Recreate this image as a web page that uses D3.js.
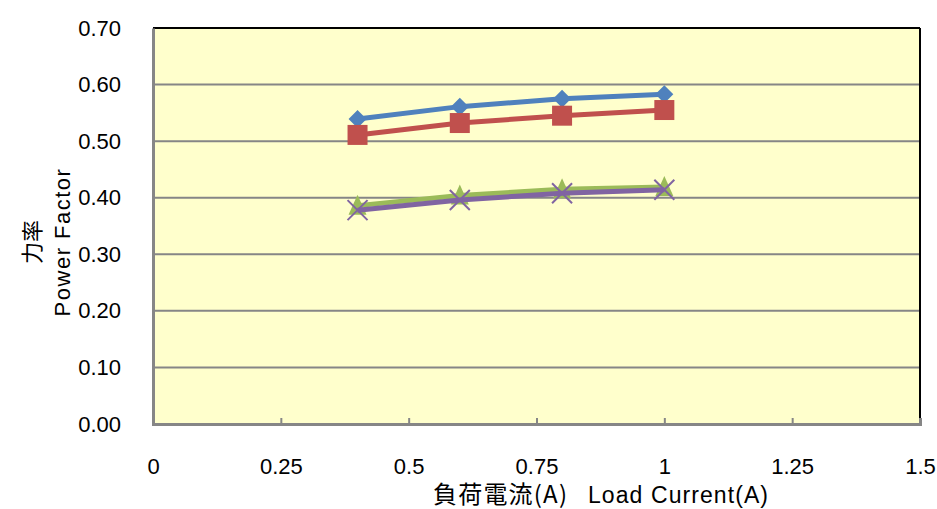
<!DOCTYPE html>
<html>
<head>
<meta charset="utf-8">
<script src="https://cdn.jsdelivr.net/npm/d3@7"></script>
<style>
  body { margin: 0; background: #fff; }
  text { font-family: "Liberation Sans", Arial, sans-serif; fill: #000; }
</style>
</head>
<body>
<div id="dataviz"></div>
<script>
// chart data
var loadCurrent = [0.4, 0.6, 0.8, 1.0];
var seriesA = [0.539, 0.561, 0.575, 0.583];
var seriesB = [0.511, 0.532, 0.545, 0.555];
var seriesC = [0.386, 0.404, 0.415, 0.419];
var seriesD = [0.378, 0.396, 0.408, 0.414];
var xTicks = [0, 0.25, 0.5, 0.75, 1, 1.25, 1.5];
var yTicks = [0, 0.1, 0.2, 0.3, 0.4, 0.5, 0.6, 0.7];

var series = [
  {values: seriesA, color: "#4F81BD", marker: "diamond"},
  {values: seriesB, color: "#C0504D", marker: "square"},
  {values: seriesC, color: "#9BBB59", marker: "triangle"},
  {values: seriesD, color: "#8064A2", marker: "cross"}
];

var W = 937, H = 509;
var margin = {top: 28, right: 17, bottom: 85, left: 153};
var width = W - margin.left - margin.right;
var height = H - margin.top - margin.bottom;

var svg = d3.select("#dataviz")
  .append("svg")
    .attr("width", W)
    .attr("height", H)
  .append("g")
    .attr("transform", "translate(" + margin.left + "," + margin.top + ")");

var x = d3.scaleLinear().domain([0, 1.5]).range([0, width]);
var y = d3.scaleLinear().domain([0, 0.7]).range([height, 0]);

// plot background
svg.append("rect")
  .attr("width", width)
  .attr("height", height)
  .attr("fill", "#FFFFCC");

// horizontal gridlines
svg.selectAll(".grid")
  .data(yTicks.slice(1, -1))
  .enter()
  .append("line")
    .attr("x1", 0).attr("x2", width)
    .attr("y1", function(d) { return y(d); })
    .attr("y2", function(d) { return y(d); })
    .attr("stroke", "#868686")
    .attr("stroke-width", 2);

// frame: top/right dark, left/bottom gray
svg.append("line").attr("x1", 0).attr("x2", width).attr("y1", 0).attr("y2", 0)
  .attr("stroke", "#000").attr("stroke-width", 2);
svg.append("line").attr("x1", width).attr("x2", width).attr("y1", 0).attr("y2", height)
  .attr("stroke", "#000").attr("stroke-width", 2);

// x axis (ticks pointing inward)
var xAxis = svg.append("g")
  .attr("transform", "translate(0," + height + ")")
  .call(d3.axisBottom(x).tickValues(xTicks).tickSize(-6).tickPadding(34)
    .tickFormat(function(d) { return String(d); }));
xAxis.select(".domain").attr("stroke", "#868686").attr("stroke-width", 3);
xAxis.selectAll(".tick line").attr("stroke", "#868686").attr("stroke-width", 2);
xAxis.selectAll(".tick text").style("font-size", "22px");

// y axis
var yAxis = svg.append("g")
  .call(d3.axisLeft(y).tickValues(yTicks).tickSize(0).tickPadding(32)
    .tickFormat(d3.format(".2f")));
yAxis.select(".domain").attr("stroke", "#868686").attr("stroke-width", 3);
yAxis.selectAll(".tick text").style("font-size", "22px");

// lines and markers, series by series
var line = d3.line()
  .x(function(d, i) { return x(loadCurrent[i]); })
  .y(function(d) { return y(d); });

series.forEach(function(s) {
  svg.append("path")
    .datum(s.values)
    .attr("fill", "none")
    .attr("stroke", s.color)
    .attr("stroke-width", 5)
    .attr("stroke-linejoin", "round")
    .attr("d", line);

  var g = svg.append("g");
  s.values.forEach(function(v, i) {
    var cx = x(loadCurrent[i]), cy = y(v);
    if (s.marker === "diamond") {
      g.append("path")
        .attr("d", "M" + cx + "," + (cy - 9) + "L" + (cx + 9) + "," + cy + "L" + cx + "," + (cy + 9) + "L" + (cx - 9) + "," + cy + "Z")
        .attr("fill", s.color);
    } else if (s.marker === "square") {
      g.append("rect")
        .attr("x", cx - 10).attr("y", cy - 10)
        .attr("width", 20).attr("height", 20)
        .attr("fill", s.color);
    } else if (s.marker === "triangle") {
      g.append("path")
        .attr("d", "M" + cx + "," + (cy - 11) + "L" + (cx + 9) + "," + (cy + 9) + "L" + (cx - 9) + "," + (cy + 9) + "Z")
        .attr("fill", s.color);
    } else {
      g.append("path")
        .attr("d", "M" + (cx - 10) + "," + (cy - 10) + "L" + (cx + 10) + "," + (cy + 10) + "M" + (cx + 10) + "," + (cy - 10) + "L" + (cx - 10) + "," + (cy + 10))
        .attr("stroke", s.color)
        .attr("stroke-width", 2);
    }
  });
});

// y axis titles
svg.append("text")
  .attr("transform", "translate(" + (30 - margin.left) + "," + (242 - margin.top) + ") rotate(-90)")
  .attr("text-anchor", "middle")
  .attr("dominant-baseline", "central")
  .style("font-size", "22px")
  .style("font-family", "'Noto Sans CJK JP', sans-serif")
  .text("力率");
svg.append("text")
  .attr("transform", "translate(" + (62 - margin.left) + "," + (242 - margin.top) + ") rotate(-90)")
  .attr("text-anchor", "middle")
  .attr("dominant-baseline", "central")
  .style("font-size", "22px")
  .style("letter-spacing", "1.5px")
  .text("Power Factor");

// x axis title
svg.append("text")
  .attr("x", 433 - margin.left)
  .attr("y", 503 - margin.top)
  .attr("textLength", 134)
  .attr("lengthAdjust", "spacing")
  .style("font-size", "24px")
  .style("font-family", "'Noto Sans CJK JP', sans-serif")
  .text("負荷電流(A)");
svg.append("text")
  .attr("x", 588 - margin.left)
  .attr("y", 503 - margin.top)
  .attr("textLength", 180)
  .attr("lengthAdjust", "spacing")
  .style("font-size", "23px")
  .text("Load Current(A)");
</script>
</body>
</html>
